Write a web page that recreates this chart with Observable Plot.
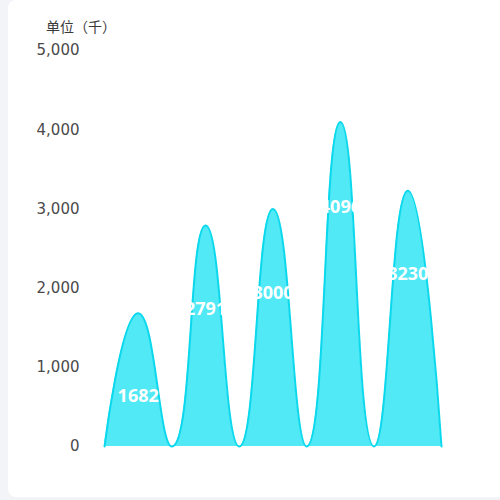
<!DOCTYPE html>
<html>
<head>
<meta charset="utf-8">
<script src="https://cdn.jsdelivr.net/npm/d3@7"></script>
<script src="https://cdn.jsdelivr.net/npm/@observablehq/plot@0.6"></script>
<style>
  html, body { margin: 0; padding: 0; background: #f3f4f8; width: 500px; height: 500px; overflow: hidden; }
  #card { position: absolute; left: 8px; top: 0; width: 520px; height: 497px; background: #fff; border-radius: 8px; }
  #title { position: absolute; left: 46px; top: 16px; font: 14px "Noto Sans CJK SC", sans-serif; color: #3a3a3a; white-space: nowrap; }
  #chart { position: absolute; left: 0; top: 0; }
</style>
</head>
<body>
<div id="card"></div>
<div id="title"></div>
<div id="chart"></div>
<script>
// ---- data ----
const categories = ["A", "B", "C", "D", "E"];
const values = [1682, 2791, 3000, 4096, 3230];
const labelAt = [631, 1730, 1932, 3018, 2172]; // value-space anchor of each label
const yTicks = [0, 1000, 2000, 3000, 4000, 5000];
const unitLabel = "单位（千）";

// peak at each category centre, baseline (0) at each band edge
const shape = [];
categories.forEach((c, i) => {
  if (i === 0) shape.push({x: i - 0.5, y: 0});
  shape.push({x: i, y: values[i]});
  shape.push({x: i + 0.5, y: 0});
});
const labels = categories.map((c, i) => ({x: i, y: labelAt[i], text: String(values[i])}));

// ECharts-style smooth curve (smooth = 0.5 with extreme constraint)
function smoothCurve(context) {
  const s = 0.5;
  return {
    _line: NaN,
    areaStart() { this._line = 0; },
    areaEnd() { this._line = NaN; },
    lineStart() { this._pts = []; },
    point(x, y) { this._pts.push([+x, +y]); },
    lineEnd() {
      const p = this._pts, n = p.length;
      let cpx0, cpy0, prevX, prevY;
      for (let k = 0; k < n; k++) {
        const [x, y] = p[k];
        if (k === 0) {
          if (this._line) context.lineTo(x, y); else context.moveTo(x, y);
          cpx0 = x; cpy0 = y;
        } else {
          let cpx1, cpy1, ncx = x, ncy = y;
          if (k === n - 1) { cpx1 = x; cpy1 = y; }
          else {
            const [nx, ny] = p[k + 1];
            let vx = nx - prevX, vy = ny - prevY;
            const l0 = Math.hypot(x - prevX, y - prevY);
            const l1 = Math.hypot(nx - x, ny - y);
            const r = l1 / (l0 + l1);
            ncx = x + vx * s * r; ncy = y + vy * s * r;
            ncx = Math.min(ncx, Math.max(nx, x)); ncy = Math.min(ncy, Math.max(ny, y));
            ncx = Math.max(ncx, Math.min(nx, x)); ncy = Math.max(ncy, Math.min(ny, y));
            vx = ncx - x; vy = ncy - y;
            cpx1 = x - vx * l0 / l1; cpy1 = y - vy * l0 / l1;
            cpx1 = Math.min(cpx1, Math.max(prevX, x)); cpy1 = Math.min(cpy1, Math.max(prevY, y));
            cpx1 = Math.max(cpx1, Math.min(prevX, x)); cpy1 = Math.max(cpy1, Math.min(prevY, y));
            vx = x - cpx1; vy = y - cpy1;
            ncx = x + vx * l1 / l0; ncy = y + vy * l1 / l0;
          }
          context.bezierCurveTo(cpx0, cpy0, cpx1, cpy1, x, y);
          cpx0 = ncx; cpy0 = ncy;
        }
        prevX = x; prevY = y;
      }
      if (this._line === 1) context.closePath();
      if (this._line === 0 || this._line === 1) this._line = 1 - this._line;
    }
  };
}

const chart = Plot.plot({
  width: 500,
  height: 500,
  marginLeft: 104,
  marginRight: 59,
  marginTop: 50,
  marginBottom: 54,
  style: {background: "transparent", fontFamily: "'DejaVu Sans', sans-serif"},
  x: {domain: [-0.5, 4.5], axis: null},
  y: {domain: [0, 5000], axis: null},
  marks: [
    Plot.axisY({ticks: yTicks, tickFormat: d3.format(","), tickSize: 0, tickPadding: 25, label: null, fontSize: 15, fill: "#4a4a4a"}),
    Plot.areaY(shape, {x: "x", y: "y", curve: smoothCurve, fill: "#50e9f5"}),
    Plot.line(shape, {x: "x", y: "y", curve: smoothCurve, stroke: "#0bd8ec", strokeWidth: 2}),
    Plot.text(labels, {x: "x", y: "y", text: "text", fill: "white", fontSize: 18, fontWeight: "bold", fontFamily: "'Noto Sans', sans-serif"})
  ]
});
document.getElementById("chart").appendChild(chart);
document.getElementById("title").textContent = unitLabel;
</script>
</body>
</html>
